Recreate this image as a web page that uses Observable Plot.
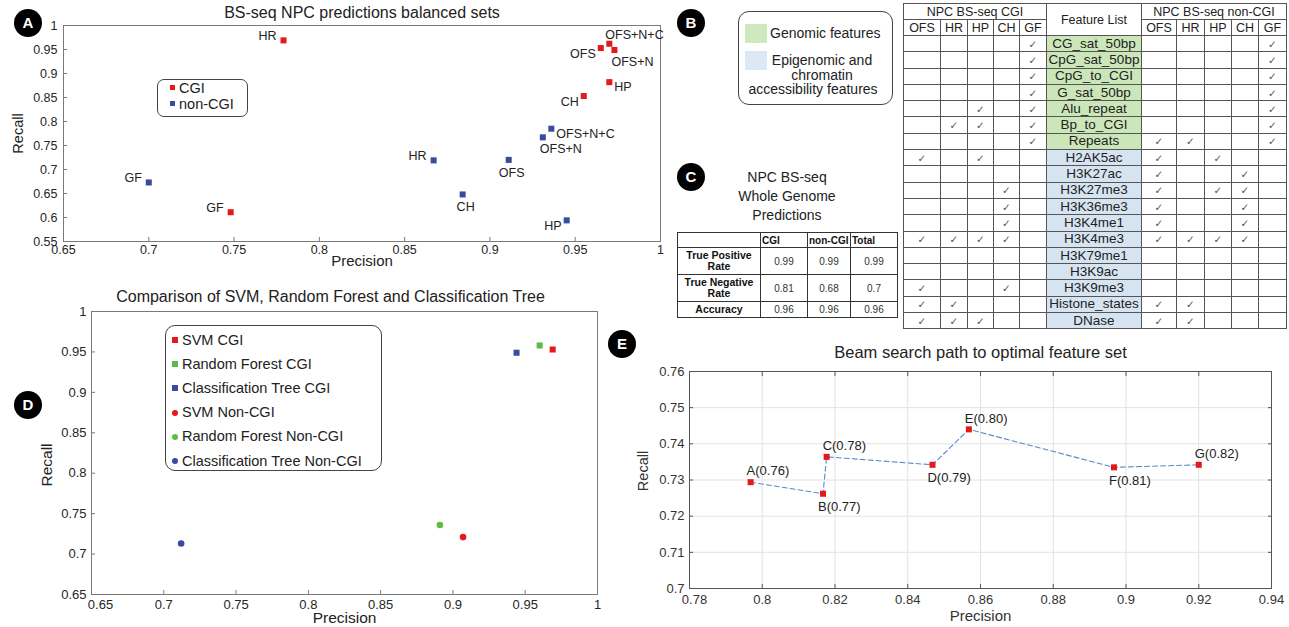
<!DOCTYPE html>
<html>
<head>
<meta charset="utf-8">
<script src="https://cdn.jsdelivr.net/npm/d3@7"></script>
<script src="https://cdn.jsdelivr.net/npm/@observablehq/plot@0.6"></script>
<style>
html,body{margin:0;padding:0;background:#fff;}
#root{position:relative;width:1289px;height:627px;overflow:hidden;font-family:"Liberation Sans",Arial,Helvetica,sans-serif;color:#222;}
#root svg{position:absolute;overflow:visible;}
.badge{position:absolute;width:28px;height:28px;border-radius:50%;background:#000;color:#fff;font-weight:bold;font-size:15px;line-height:28px;text-align:center;}
.box{position:absolute;border:1px solid #444;background:#fff;box-sizing:border-box;}
.lt{position:absolute;white-space:nowrap;line-height:1;}
table{position:absolute;border-collapse:collapse;table-layout:fixed;}
#tb td{border:1px solid #555;padding:0;text-align:center;white-space:nowrap;overflow:hidden;font-size:12.5px;line-height:14px;color:#222;}
#tb tr.h td{height:15px;}
#tb tr.r td{height:15.3px;}
#tb td.ck{font-size:10.5px;color:#555;font-family:"DejaVu Sans",sans-serif;}
#tb td.g{background:#cbe6b8;font-size:13.5px;}
#tb td.e{background:#d6e4f1;font-size:13.5px;}
#tc td{border:1px solid #333;padding:0;font-size:10px;line-height:11px;text-align:center;color:#333;white-space:nowrap;overflow:hidden;}
#tc td.hd{font-weight:bold;text-align:left;padding-left:1px;color:#111;}
#tc td.rl{font-weight:bold;color:#111;font-size:10.5px;}
.mk{position:absolute;width:6px;height:6px;}
</style>
</head>
<body>
<div id="root"></div>
<script>
// ---------------- DATA ----------------
// Panel A: BS-seq NPC predictions balanced sets
const aCgiNames = ["HR", "GF", "OFS", "OFS+N+C", "OFS+N", "HP", "CH"];
const aCgiPrecision = [0.779, 0.748, 0.965, 0.970, 0.973, 0.970, 0.955];
const aCgiRecall = [0.969, 0.611, 0.953, 0.962, 0.949, 0.882, 0.853];
const aCgiLabelPos = ["W", "W", "WSW", "NE", "SE", "E", "WSW"];
const aNonNames = ["GF", "HR", "OFS", "CH", "HP", "OFS+N", "OFS+N+C"];
const aNonPrecision = [0.700, 0.867, 0.911, 0.884, 0.945, 0.931, 0.936];
const aNonRecall = [0.673, 0.719, 0.720, 0.648, 0.594, 0.767, 0.785];
const aNonLabelPos = ["W", "W", "S", "S", "WSW", "SE", "E"];
const aTicksX = [0.65, 0.7, 0.75, 0.8, 0.85, 0.9, 0.95, 1];
const aTicksY = [0.55, 0.6, 0.65, 0.7, 0.75, 0.8, 0.85, 0.9, 0.95, 1];
const aSets = ["CGI", "non-CGI"];

// Panel B: feature table
const bSubsets = ["OFS", "HR", "HP", "CH", "GF"];
const bFeatures = ["CG_sat_50bp", "CpG_sat_50bp", "CpG_to_CGI", "G_sat_50bp", "Alu_repeat", "Bp_to_CGI", "Repeats",
  "H2AK5ac", "H3K27ac", "H3K27me3", "H3K36me3", "H3K4me1", "H3K4me3", "H3K79me1", "H3K9ac", "H3K9me3", "Histone_states", "DNase"];
const bFeatureType = ["Genomic", "Genomic", "Genomic", "Genomic", "Genomic", "Genomic", "Genomic",
  "Epigenomic", "Epigenomic", "Epigenomic", "Epigenomic", "Epigenomic", "Epigenomic", "Epigenomic", "Epigenomic", "Epigenomic", "Epigenomic", "Epigenomic"];
const bCgiChecks = ["GF", "GF", "GF", "GF", "HP GF", "HR HP GF", "GF", "OFS HP", "", "CH", "CH", "CH",
  "OFS HR HP CH", "", "", "OFS CH", "OFS HR", "OFS HR HP"];
const bNonChecks = ["GF", "GF", "GF", "GF", "GF", "GF", "OFS HR GF", "OFS HP", "OFS CH", "OFS HP CH", "OFS CH", "OFS CH",
  "OFS HR HP CH", "", "", "", "OFS HR", "OFS HR"];
const bLegendLabels = ["Genomic features", "Epigenomic and", "chromatin", "accessibility features"];

// Panel C: whole genome predictions
const cTitle = ["NPC BS-seq", "Whole Genome", "Predictions"];
const cColumns = ["CGI", "non-CGI", "Total"];
const cRows = [["True Positive", "Rate"], ["True Negative", "Rate"], ["Accuracy"]];
const cCgi = ["0.99", "0.81", "0.96"];
const cNon = ["0.99", "0.68", "0.96"];
const cTotal = ["0.99", "0.7", "0.96"];

// Panel D: method comparison
const dMethods = ["SVM", "Random Forest", "Classification Tree"];
const dCgiPrecision = [0.969, 0.960, 0.944];
const dCgiRecall = [0.953, 0.958, 0.949];
const dNonPrecision = [0.907, 0.891, 0.712];
const dNonRecall = [0.721, 0.736, 0.713];
const dSets = ["CGI", "Non-CGI"];
const dTicks = [0.65, 0.7, 0.75, 0.8, 0.85, 0.9, 0.95, 1];

// Panel E: beam search path
const eNames = ["A", "B", "C", "D", "E", "F", "G"];
const eScores = [0.76, 0.77, 0.78, 0.79, 0.80, 0.81, 0.82];
const ePrecision = [0.7968, 0.8167, 0.8177, 0.8468, 0.8568, 0.8967, 0.9200];
const eRecall = [0.7294, 0.7262, 0.7364, 0.7342, 0.7440, 0.7335, 0.7342];
const eLabelPos = ["N", "S", "N", "S", "N", "S", "N"];
const eTicksX = [0.78, 0.8, 0.82, 0.84, 0.86, 0.88, 0.9, 0.92, 0.94];
const eTicksY = [0.70, 0.71, 0.72, 0.73, 0.74, 0.75, 0.76];

// ---------------- STYLE ----------------
const font = '"Liberation Sans", Arial, Helvetica, sans-serif';
const red = "#e3191b", blue = "#3a4a9f", green = "#5bbd45";
const methodColor = {"SVM": red, "Random Forest": green, "Classification Tree": blue};
const fmt = d => String(+(+d).toFixed(2));
const root = document.getElementById("root");
function add(el, left, top) { el.style.position = "absolute"; el.style.left = left + "px"; el.style.top = top + "px"; root.appendChild(el); return el; }
function div(cls, html) { const e = document.createElement("div"); if (cls) e.className = cls; if (html != null) e.innerHTML = html; return e; }
const mid = {textAnchor: "middle", lineAnchor: "middle"};

const placeA = {
  W: {textAnchor: "end", dx: -7, dy: -4},
  WSW: {textAnchor: "end", dx: -5, dy: 6},
  S: {textAnchor: "middle", dx: 3, dy: 13},
  SE: {textAnchor: "start", dx: -3, dy: 12},
  NE: {textAnchor: "start", dx: -4, dy: -9},
  E: {textAnchor: "start", dx: 5, dy: 5}
};
const placeE = {
  N: {textAnchor: "start", dx: -4, dy: -11},
  S: {textAnchor: "start", dx: -5, dy: 13}
};
function labels(data, places, fontSize) {
  return Object.entries(places).map(([k, o]) =>
    Plot.text(data.filter(d => d.pos === k), {x: "p", y: "r", text: "name", fontSize, fill: "#222", ...o}));
}

// ---------------- PANEL A ----------------
const ptsA = [
  ...aCgiNames.map((n, i) => ({set: aSets[0], name: n, p: aCgiPrecision[i], r: aCgiRecall[i], pos: aCgiLabelPos[i]})),
  ...aNonNames.map((n, i) => ({set: aSets[1], name: n, p: aNonPrecision[i], r: aNonRecall[i], pos: aNonLabelPos[i]}))
];
const plotA = Plot.plot({
  width: 670, height: 270,
  marginLeft: 63, marginRight: 10, marginTop: 25, marginBottom: 29,
  style: {fontFamily: font, fontSize: "12.5px", color: "#262626", background: "transparent"},
  x: {domain: [0.65, 1]},
  y: {domain: [0.55, 1]},
  marks: [
    Plot.frame({stroke: "#7a7a7a"}),
    Plot.axisX(aTicksX, {tickSize: -4, tickPadding: 8, tickFormat: fmt, label: null, stroke: "#7a7a7a"}),
    Plot.axisY(aTicksY, {tickSize: -4, tickPadding: 10, tickFormat: fmt, label: null, stroke: "#7a7a7a"}),
    Plot.text(["BS-seq NPC predictions balanced sets"], {frameAnchor: "top", dy: -13, fontSize: 16, fill: "#222", ...mid}),
    Plot.text(["Precision"], {frameAnchor: "bottom", dy: 20, fontSize: 15, fill: "#222", ...mid}),
    Plot.text(["Recall"], {frameAnchor: "left", dx: -45, rotate: -90, fontSize: 14.5, fill: "#222", ...mid}),
    Plot.dot(ptsA.filter(d => d.set === aSets[0]), {x: "p", y: "r", symbol: "square", r: 3.4, fill: red}),
    Plot.dot(ptsA.filter(d => d.set === aSets[1]), {x: "p", y: "r", symbol: "square", r: 3.4, fill: blue}),
    ...labels(ptsA, placeA, 12.5)
  ]
});
add(plotA, 0, 0);

// legend A
const legA = add(div("box"), 157, 79);
legA.style.width = "91px"; legA.style.height = "38px"; legA.style.borderRadius = "7px";
aSets.forEach((s, i) => {
  const m = add(div("mk"), 170, 85 + i * 16);
  m.style.width = "5px"; m.style.height = "5px"; m.style.background = i === 0 ? red : blue;
  const t = add(div("lt", s), 179, 81 + i * 16);
  t.style.fontSize = "14.5px";
});

// ---------------- PANEL D ----------------
const ptsD = [];
dMethods.forEach((m, i) => {
  ptsD.push({method: m, set: dSets[0], p: dCgiPrecision[i], r: dCgiRecall[i]});
  ptsD.push({method: m, set: dSets[1], p: dNonPrecision[i], r: dNonRecall[i]});
});
const plotD = Plot.plot({
  width: 620, height: 342,
  marginLeft: 91, marginRight: 23, marginTop: 26, marginBottom: 33,
  style: {fontFamily: font, fontSize: "13px", color: "#262626", background: "transparent"},
  x: {domain: [0.65, 1]},
  y: {domain: [0.65, 1]},
  marks: [
    Plot.frame({stroke: "#7a7a7a"}),
    Plot.axisX(dTicks, {tickSize: -4, tickPadding: 9, tickFormat: d => d === dTicks[0] ? "" : fmt(d), label: null, stroke: "#7a7a7a"}),
    Plot.axisX([dTicks[0]], {tickSize: 0, tickPadding: 5, dx: 9, tickFormat: fmt, label: null, stroke: "none"}),
    Plot.axisY(dTicks, {tickSize: -4, tickPadding: 9, tickFormat: fmt, label: null, stroke: "#7a7a7a"}),
    Plot.text(["Comparison of SVM, Random Forest and Classification Tree"], {frameAnchor: "top", dx: -14, dy: -15, fontSize: 16, fill: "#222", ...mid}),
    Plot.text(["Precision"], {frameAnchor: "bottom", dy: 24, fontSize: 15.5, fill: "#222", ...mid}),
    Plot.text(["Recall"], {frameAnchor: "left", dx: -44, dy: 12, rotate: -90, fontSize: 15.5, fill: "#222", ...mid}),
    ...dMethods.map(m => Plot.dot(ptsD.filter(d => d.method === m && d.set === dSets[0]), {x: "p", y: "r", symbol: "square", r: 3.4, fill: methodColor[m]})),
    ...dMethods.map(m => Plot.dot(ptsD.filter(d => d.method === m && d.set === dSets[1]), {x: "p", y: "r", symbol: "circle", r: 3.3, fill: methodColor[m]}))
  ]
});
add(plotD, 0, 285);

// legend D
const legD = add(div("box"), 165, 325);
legD.style.width = "217px"; legD.style.height = "146px"; legD.style.borderRadius = "10px";
let li = 0;
dSets.forEach(s => dMethods.forEach(m => {
  const y = 340 + li * 24.2;
  const mk = add(div("mk"), 172, y - 3);
  mk.style.background = methodColor[m];
  if (s !== dSets[0]) mk.style.borderRadius = "50%";
  const t = add(div("lt", m + " " + s), 182, y - 7.5);
  t.style.fontSize = "14.5px";
  li++;
}));

// ---------------- PANEL E ----------------
const ptsE = eNames.map((n, i) => ({name: n + "(" + eScores[i].toFixed(2) + ")", p: ePrecision[i], r: eRecall[i], pos: eLabelPos[i]}));
const plotE = Plot.plot({
  width: 669, height: 292,
  marginLeft: 69, marginRight: 18, marginTop: 36, marginBottom: 39,
  style: {fontFamily: font, fontSize: "13px", color: "#333", background: "transparent"},
  x: {domain: [0.78, 0.94]},
  y: {domain: [0.70, 0.76]},
  marks: [
    Plot.gridX(eTicksX, {stroke: "#e2e2e2", strokeOpacity: 1}),
    Plot.gridY(eTicksY, {stroke: "#e2e2e2", strokeOpacity: 1}),
    Plot.frame({stroke: "#555"}),
    Plot.axisX(eTicksX, {tickSize: -4, tickPadding: 10, tickFormat: d => d === eTicksX[0] ? "" : fmt(d), label: null, stroke: "#555"}),
    Plot.axisX([eTicksX[0]], {tickSize: 0, tickPadding: 6, dx: 5, tickFormat: fmt, label: null, stroke: "none"}),
    Plot.axisX(eTicksX, {anchor: "top", tickSize: -4, tickFormat: () => "", label: null, stroke: "#555"}),
    Plot.axisY(eTicksY, {tickSize: -4, tickPadding: 9, tickFormat: fmt, label: null, stroke: "#555"}),
    Plot.axisY(eTicksY, {anchor: "right", tickSize: -4, tickFormat: () => "", label: null, stroke: "#555"}),
    Plot.text(["Beam search path to optimal feature set"], {frameAnchor: "top", dy: -19, fontSize: 16.5, fill: "#222", ...mid}),
    Plot.text(["Precision"], {frameAnchor: "bottom", dy: 28, fontSize: 15, fill: "#333", ...mid}),
    Plot.text(["Recall"], {frameAnchor: "left", dx: -46, dy: -9, rotate: -90, fontSize: 14.5, fill: "#333", ...mid}),
    Plot.line(ptsE, {x: "p", y: "r", stroke: "#5a8ac6", strokeWidth: 1.1, strokeDasharray: "5,3"}),
    Plot.dot(ptsE, {x: "p", y: "r", symbol: "square", r: 3.4, fill: red}),
    ...labels(ptsE, placeE, 13)
  ]
});
add(plotE, 620, 335);

// ---------------- PANEL B ----------------
const colL = [37, 27, 26, 26, 27], colR = [35, 28, 27, 27, 28];
let hb = "<colgroup>" + colL.map(w => `<col style="width:${w}px">`).join("") + `<col style="width:95px">` +
  colR.map(w => `<col style="width:${w}px">`).join("") + "</colgroup>";
hb += `<tr class="h"><td colspan="5">NPC BS-seq CGI</td><td rowspan="2">Feature List</td><td colspan="5">NPC BS-seq non-CGI</td></tr>`;
hb += `<tr class="h">` + bSubsets.map(s => `<td>${s}</td>`).join("") + bSubsets.map(s => `<td>${s}</td>`).join("") + `</tr>`;
bFeatures.forEach((f, i) => {
  const c = bCgiChecks[i].split(" "), n = bNonChecks[i].split(" ");
  hb += `<tr class="r">` + bSubsets.map(s => `<td class="ck">${c.includes(s) ? "✓" : ""}</td>`).join("") +
    `<td class="${bFeatureType[i] === "Genomic" ? "g" : "e"}">${f}</td>` +
    bSubsets.map(s => `<td class="ck">${n.includes(s) ? "✓" : ""}</td>`).join("") + `</tr>`;
});
const tb = document.createElement("table"); tb.id = "tb"; tb.innerHTML = hb;
add(tb, 903, 3);

// legend B
const legB = add(div("box"), 738, 11);
legB.style.width = "155px"; legB.style.height = "94px"; legB.style.borderRadius = "11px";
const swG = add(div(null), 745, 24); swG.style.width = "22px"; swG.style.height = "19px"; swG.style.background = "#cfe9bf";
const swB = add(div(null), 745, 51); swB.style.width = "22px"; swB.style.height = "19px"; swB.style.background = "#dce8f4";
[[770, 26, "left"], [822, 53, "center"], [822, 67.5, "center"], [813, 82, "center"]].forEach(([x, y, al], i) => {
  const t = add(div("lt", bLegendLabels[i]), x, y);
  t.style.fontSize = "14px";
  if (al === "center") t.style.transform = "translateX(-50%)";
});

// ---------------- PANEL C ----------------
cTitle.forEach((s, i) => {
  const t = add(div("lt", s), 787, 170 + i * 19);
  t.style.fontSize = "14px"; t.style.transform = "translateX(-50%)";
});
let hc = `<colgroup><col style="width:83px"><col style="width:47px"><col style="width:43px"><col style="width:47px"></colgroup>`;
hc += `<tr style="height:15px"><td></td>` + cColumns.map(c => `<td class="hd">${c}</td>`).join("") + `</tr>`;
const rowH = [27, 27, 16];
cRows.forEach((r, i) => {
  hc += `<tr style="height:${rowH[i]}px"><td class="rl">${r.join("<br>")}</td><td>${cCgi[i]}</td><td>${cNon[i]}</td><td>${cTotal[i]}</td></tr>`;
});
const tc = document.createElement("table"); tc.id = "tc"; tc.innerHTML = hc;
add(tc, 677, 232);

// ---------------- BADGES ----------------
[["A", 28, 23], ["B", 691, 23], ["C", 691, 177], ["D", 28, 405], ["E", 622, 344]].forEach(([l, x, y]) => {
  add(div("badge", l), x - 14, y - 14);
});
</script>
</body>
</html>
